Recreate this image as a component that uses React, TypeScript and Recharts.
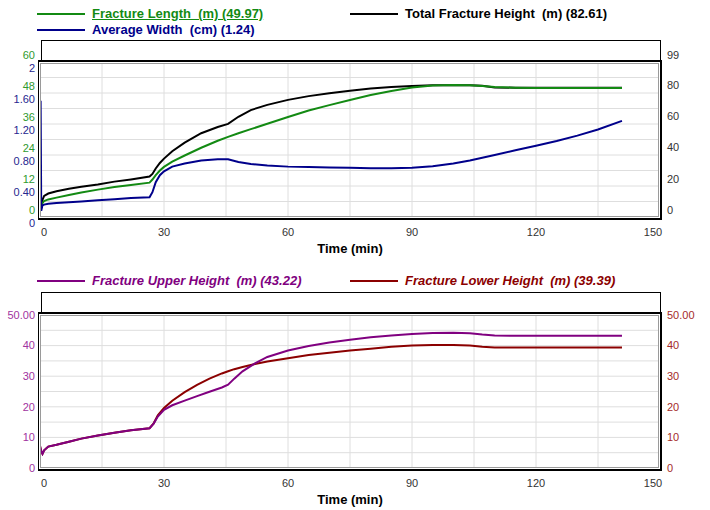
import { CartesianGrid, ComposedChart, Line, XAxis, YAxis } from 'recharts'

const FONT = 'Arial, "Liberation Sans", Helvetica, sans-serif'

// ---- top panel: length / width / total height vs time ----
const topTimes = [
  0, 0.15, 0.3, 0.6, 1, 2, 4, 7, 10, 14, 18, 22, 26.5, 27.2, 28, 29, 30, 32, 35, 39, 43, 45.5, 48, 51, 55, 60,
  65, 70, 75, 80, 85, 90, 95, 100, 104, 107, 110, 115, 120, 125, 130, 135, 140.8,
]
const fracLength = [
  7.5, 6.2, 4.6, 5.4, 6.2, 6.8, 7.5, 8.5, 9.5, 10.6, 11.6, 12.4, 13.3, 14.5, 16.2, 18.0, 19.4, 21.4, 23.8, 26.8,
  29.5, 31.0, 32.4, 34.0, 36.1, 38.7, 41.2, 43.3, 45.3, 47.2, 48.8, 50.1, 50.9, 51.1, 51.0, 50.7, 50.3, 50.05,
  49.97, 49.97, 49.97, 49.97, 49.97,
]
const totalHeight = [
  6, 8, 7, 11, 13.5, 15, 16.5, 18, 19.3, 20.8, 22.6, 24, 25.8, 27.5, 31, 34.5, 37.3, 42, 47.5, 53.5, 57.5, 59.5,
  64, 68.3, 71.6, 74.8, 77.2, 79, 80.6, 82, 83, 83.6, 84.1, 84.2, 84.1, 83.8, 82.7, 82.6, 82.6, 82.6, 82.6, 82.61,
  82.61,
]
const avgWidth = [
  0.05, 1.5, 0.08, 0.15, 0.16, 0.17, 0.18, 0.19, 0.2, 0.215, 0.23, 0.245, 0.255, 0.32, 0.45, 0.54, 0.59, 0.65,
  0.69, 0.73, 0.745, 0.745, 0.71, 0.685, 0.665, 0.65, 0.645, 0.64, 0.635, 0.63, 0.63, 0.635, 0.655, 0.69, 0.73,
  0.765, 0.8, 0.86, 0.92, 0.98, 1.05, 1.13, 1.24,
]

// ---- bottom panel: upper / lower height vs time ----
const bottomTimes = [
  0, 0.3, 0.6, 1, 2, 4, 7, 10, 14, 18, 22, 26.5, 27.5, 28.5, 30, 32, 35, 38, 41, 44, 45.5, 47, 49, 52, 55, 60, 65,
  70, 75, 80, 85, 90, 95, 100, 104, 107, 110, 115, 120, 130, 140.8,
]
const upperHeight = [
  7.2, 5.5, 4.6, 5.8, 7.0, 7.6, 8.6, 9.6, 10.6, 11.5, 12.3, 13.0, 14.5, 16.8, 19.0, 20.5, 22.0, 23.5, 24.9, 26.3,
  27.2, 29.2, 31.6, 34.2, 36.3, 38.4, 39.9, 41.0, 41.9, 42.7, 43.3, 43.8, 44.1, 44.2, 44.0, 43.6, 43.3, 43.22,
  43.22, 43.22, 43.22,
]
const lowerHeight = [
  7.2, 5.5, 4.6, 5.8, 7.0, 7.6, 8.6, 9.6, 10.6, 11.5, 12.3, 13.0, 14.6, 17.2, 19.6, 22.0, 24.8, 27.2, 29.2, 30.9,
  31.6, 32.3, 33.0, 34.0, 34.8, 35.9, 36.9, 37.7, 38.4, 39.0, 39.6, 40.0, 40.2, 40.2, 40.0, 39.6, 39.4, 39.39,
  39.39, 39.39, 39.39,
]

// ---- axes ----
const timeTicks = [0, 15, 30, 45, 60, 75, 90, 105, 120, 135, 150]
const lengthTicks = [0, 6, 12, 18, 24, 30, 36, 42, 48, 54, 60]
const widthTicks = [0, 0.4, 0.8, 1.2, 1.6, 2]
const heightTicks = [0, 20, 40, 60, 80, 99]
const halfTicks = [0, 5, 10, 15, 20, 25, 30, 35, 40, 45, 50]

const COL = {
  length: '#138a13',
  width: '#00008b',
  total: '#000000',
  upper: '#800080',
  lower: '#8b0000',
}
const LABEL = {
  green: '#2f9a2f',
  blue: '#26268f',
  purple: '#a033a0',
  red: '#a52a2a',
  gray: '#333',
}

const topRows = topTimes.map((t, i) => ({
  t,
  length: fracLength[i],
  total: totalHeight[i],
  width: avgWidth[i],
}))
const bottomRows = bottomTimes.map((t, i) => ({ t, upper: upperHeight[i], lower: lowerHeight[i] }))

const TOP_PLOT_BOTTOM = 217
const BOTTOM_PLOT_BOTTOM = 215 // relative to the lower chart's svg

function timeTick(p: any, baseY: number) {
  const v = p.payload.value
  if (v % 30 !== 0) return null
  const shift = v === 0 ? 4 : v === 150 ? -7 : 0
  return (
    <text x={p.x + shift} y={baseY + 15} dy="0.35em" textAnchor="middle" fontSize={11} fill={LABEL.gray} fontFamily={FONT}>
      {v}
    </text>
  )
}

function sideTick(p: any, opts: { fill: string; side: 'left' | 'right'; dy: number; fmt: (v: number) => string | null }) {
  const label = opts.fmt(p.payload.value)
  if (label === null) return null
  const left = opts.side === 'left'
  return (
    <text
      x={left ? 35 : 667}
      y={p.y + opts.dy}
      dy="0.35em"
      textAnchor={left ? 'end' : 'start'}
      fontSize={11}
      fill={opts.fill}
      fontFamily={FONT}
    >
      {label}
    </text>
  )
}

const fmtWidth = (v: number) => (v === 0 || v === 2 ? String(v) : v.toFixed(2))
const fmtLength = (v: number) => (v % 12 === 0 ? String(v) : null)
const fmtHalf = (v: number) => (v % 10 !== 0 ? null : v === 50 ? '50.00' : String(v))

function LegendItem({ x, y, color, text, italic, underline }: any) {
  return (
    <>
      <div style={{ position: 'absolute', left: x, top: y - 1, width: 48, height: 2, background: color }} />
      <div
        style={{
          position: 'absolute',
          left: x + 55,
          top: y - 8,
          lineHeight: '16px',
          fontSize: 13,
          fontWeight: 700,
          fontStyle: italic ? 'italic' : 'normal',
          textDecoration: underline ? 'underline' : 'none',
          color,
          whiteSpace: 'pre',
        }}
      >
        {text}
      </div>
    </>
  )
}

function Frame({ top, stripTop, height }: { top: number; stripTop: number; height: number }) {
  return (
    <>
      <div
        style={{
          position: 'absolute',
          left: 41,
          top: stripTop,
          width: 620,
          height: top - stripTop + 1,
          border: '1px solid #000',
          boxSizing: 'border-box',
        }}
      />
      <div
        style={{
          position: 'absolute',
          left: 38,
          top,
          width: 624,
          height,
          borderTop: '2px solid #000',
          borderLeft: '1px solid #000',
          borderRight: '2px solid #000',
          borderBottom: '2px solid #000',
          boxSizing: 'border-box',
          boxShadow: 'inset 0 0 0 1px #fff, inset 0 0 0 2px #9a9a9a',
        }}
      />
    </>
  )
}

const axisText = { fontSize: 13, fontWeight: 700, fill: '#000', fontFamily: FONT }

export default function App() {
  return (
    <div style={{ position: 'absolute', left: 0, top: 0, width: 710, height: 510, background: '#fff', fontFamily: FONT }}>
      <LegendItem x={37} y={14} color={COL.length} text="Fracture Length  (m) (49.97)" underline />
      <LegendItem x={350} y={14} color={COL.total} text="Total Fracture Height  (m) (82.61)" />
      <LegendItem x={37} y={30} color={COL.width} text="Average Width  (cm) (1.24)" />

      <div style={{ position: 'absolute', left: 0, top: 0 }}>
        <ComposedChart width={710} height={260} data={topRows} margin={{ top: 62, right: 0, bottom: 3, left: 0 }}>
          <CartesianGrid yAxisId="len" stroke="#dedede" strokeWidth={1} />
          <XAxis
            dataKey="t"
            type="number"
            domain={[0, 150]}
            ticks={timeTicks}
            interval={0}
            height={40}
            axisLine={false}
            tickLine={false}
            tick={(p: any) => timeTick(p, TOP_PLOT_BOTTOM)}
            label={{ value: 'Time (min)', position: 'insideBottom', offset: 4, ...axisText }}
          />
          <YAxis
            yAxisId="len"
            domain={[0, 60]}
            ticks={lengthTicks}
            interval={0}
            width={39}
            axisLine={false}
            tickLine={false}
            tick={(p: any) => sideTick(p, { fill: LABEL.green, side: 'left', dy: -7, fmt: fmtLength })}
          />
          <YAxis
            yAxisId="wid"
            domain={[0, 2]}
            ticks={widthTicks}
            interval={0}
            width={1}
            axisLine={false}
            tickLine={false}
            tick={(p: any) => sideTick(p, { fill: LABEL.blue, side: 'left', dy: 6, fmt: fmtWidth })}
          />
          <YAxis
            yAxisId="hgt"
            orientation="right"
            domain={[0, 99]}
            ticks={heightTicks}
            interval={0}
            width={50}
            axisLine={false}
            tickLine={false}
            tick={(p: any) => sideTick(p, { fill: LABEL.gray, side: 'right', dy: -7, fmt: (v) => String(v) })}
          />
          <Line yAxisId="hgt" dataKey="total" stroke={COL.total} strokeWidth={2} dot={false} isAnimationActive={false} />
          <Line yAxisId="len" dataKey="length" stroke={COL.length} strokeWidth={2} dot={false} isAnimationActive={false} />
          <Line yAxisId="wid" dataKey="width" stroke={COL.width} strokeWidth={2} dot={false} isAnimationActive={false} />
        </ComposedChart>
      </div>
      <Frame stripTop={40} top={60} height={160} />

      <LegendItem x={37} y={281} color={COL.upper} text="Fracture Upper Height  (m) (43.22)" italic />
      <LegendItem x={350} y={281} color={COL.lower} text="Fracture Lower Height  (m) (39.39)" italic />

      <div style={{ position: 'absolute', left: 0, top: 253 }}>
        <ComposedChart width={710} height={258} data={bottomRows} margin={{ top: 62, right: 0, bottom: 3, left: 0 }}>
          <CartesianGrid yAxisId="up" stroke="#dedede" strokeWidth={1} />
          <XAxis
            dataKey="t"
            type="number"
            domain={[0, 150]}
            ticks={timeTicks}
            interval={0}
            height={40}
            axisLine={false}
            tickLine={false}
            tick={(p: any) => timeTick(p, BOTTOM_PLOT_BOTTOM)}
            label={{ value: 'Time (min)', position: 'insideBottom', offset: 4, ...axisText }}
          />
          <YAxis
            yAxisId="up"
            domain={[0, 50]}
            ticks={halfTicks}
            interval={0}
            width={40}
            axisLine={false}
            tickLine={false}
            tick={(p: any) => sideTick(p, { fill: LABEL.purple, side: 'left', dy: 0, fmt: fmtHalf })}
          />
          <YAxis
            yAxisId="low"
            orientation="right"
            domain={[0, 50]}
            ticks={halfTicks}
            interval={0}
            width={50}
            axisLine={false}
            tickLine={false}
            tick={(p: any) => sideTick(p, { fill: LABEL.red, side: 'right', dy: 0, fmt: fmtHalf })}
          />
          <Line yAxisId="low" dataKey="lower" stroke={COL.lower} strokeWidth={2} dot={false} isAnimationActive={false} />
          <Line yAxisId="up" dataKey="upper" stroke={COL.upper} strokeWidth={2} dot={false} isAnimationActive={false} />
        </ComposedChart>
      </div>
      <Frame stripTop={292} top={312} height={159} />
    </div>
  )
}
